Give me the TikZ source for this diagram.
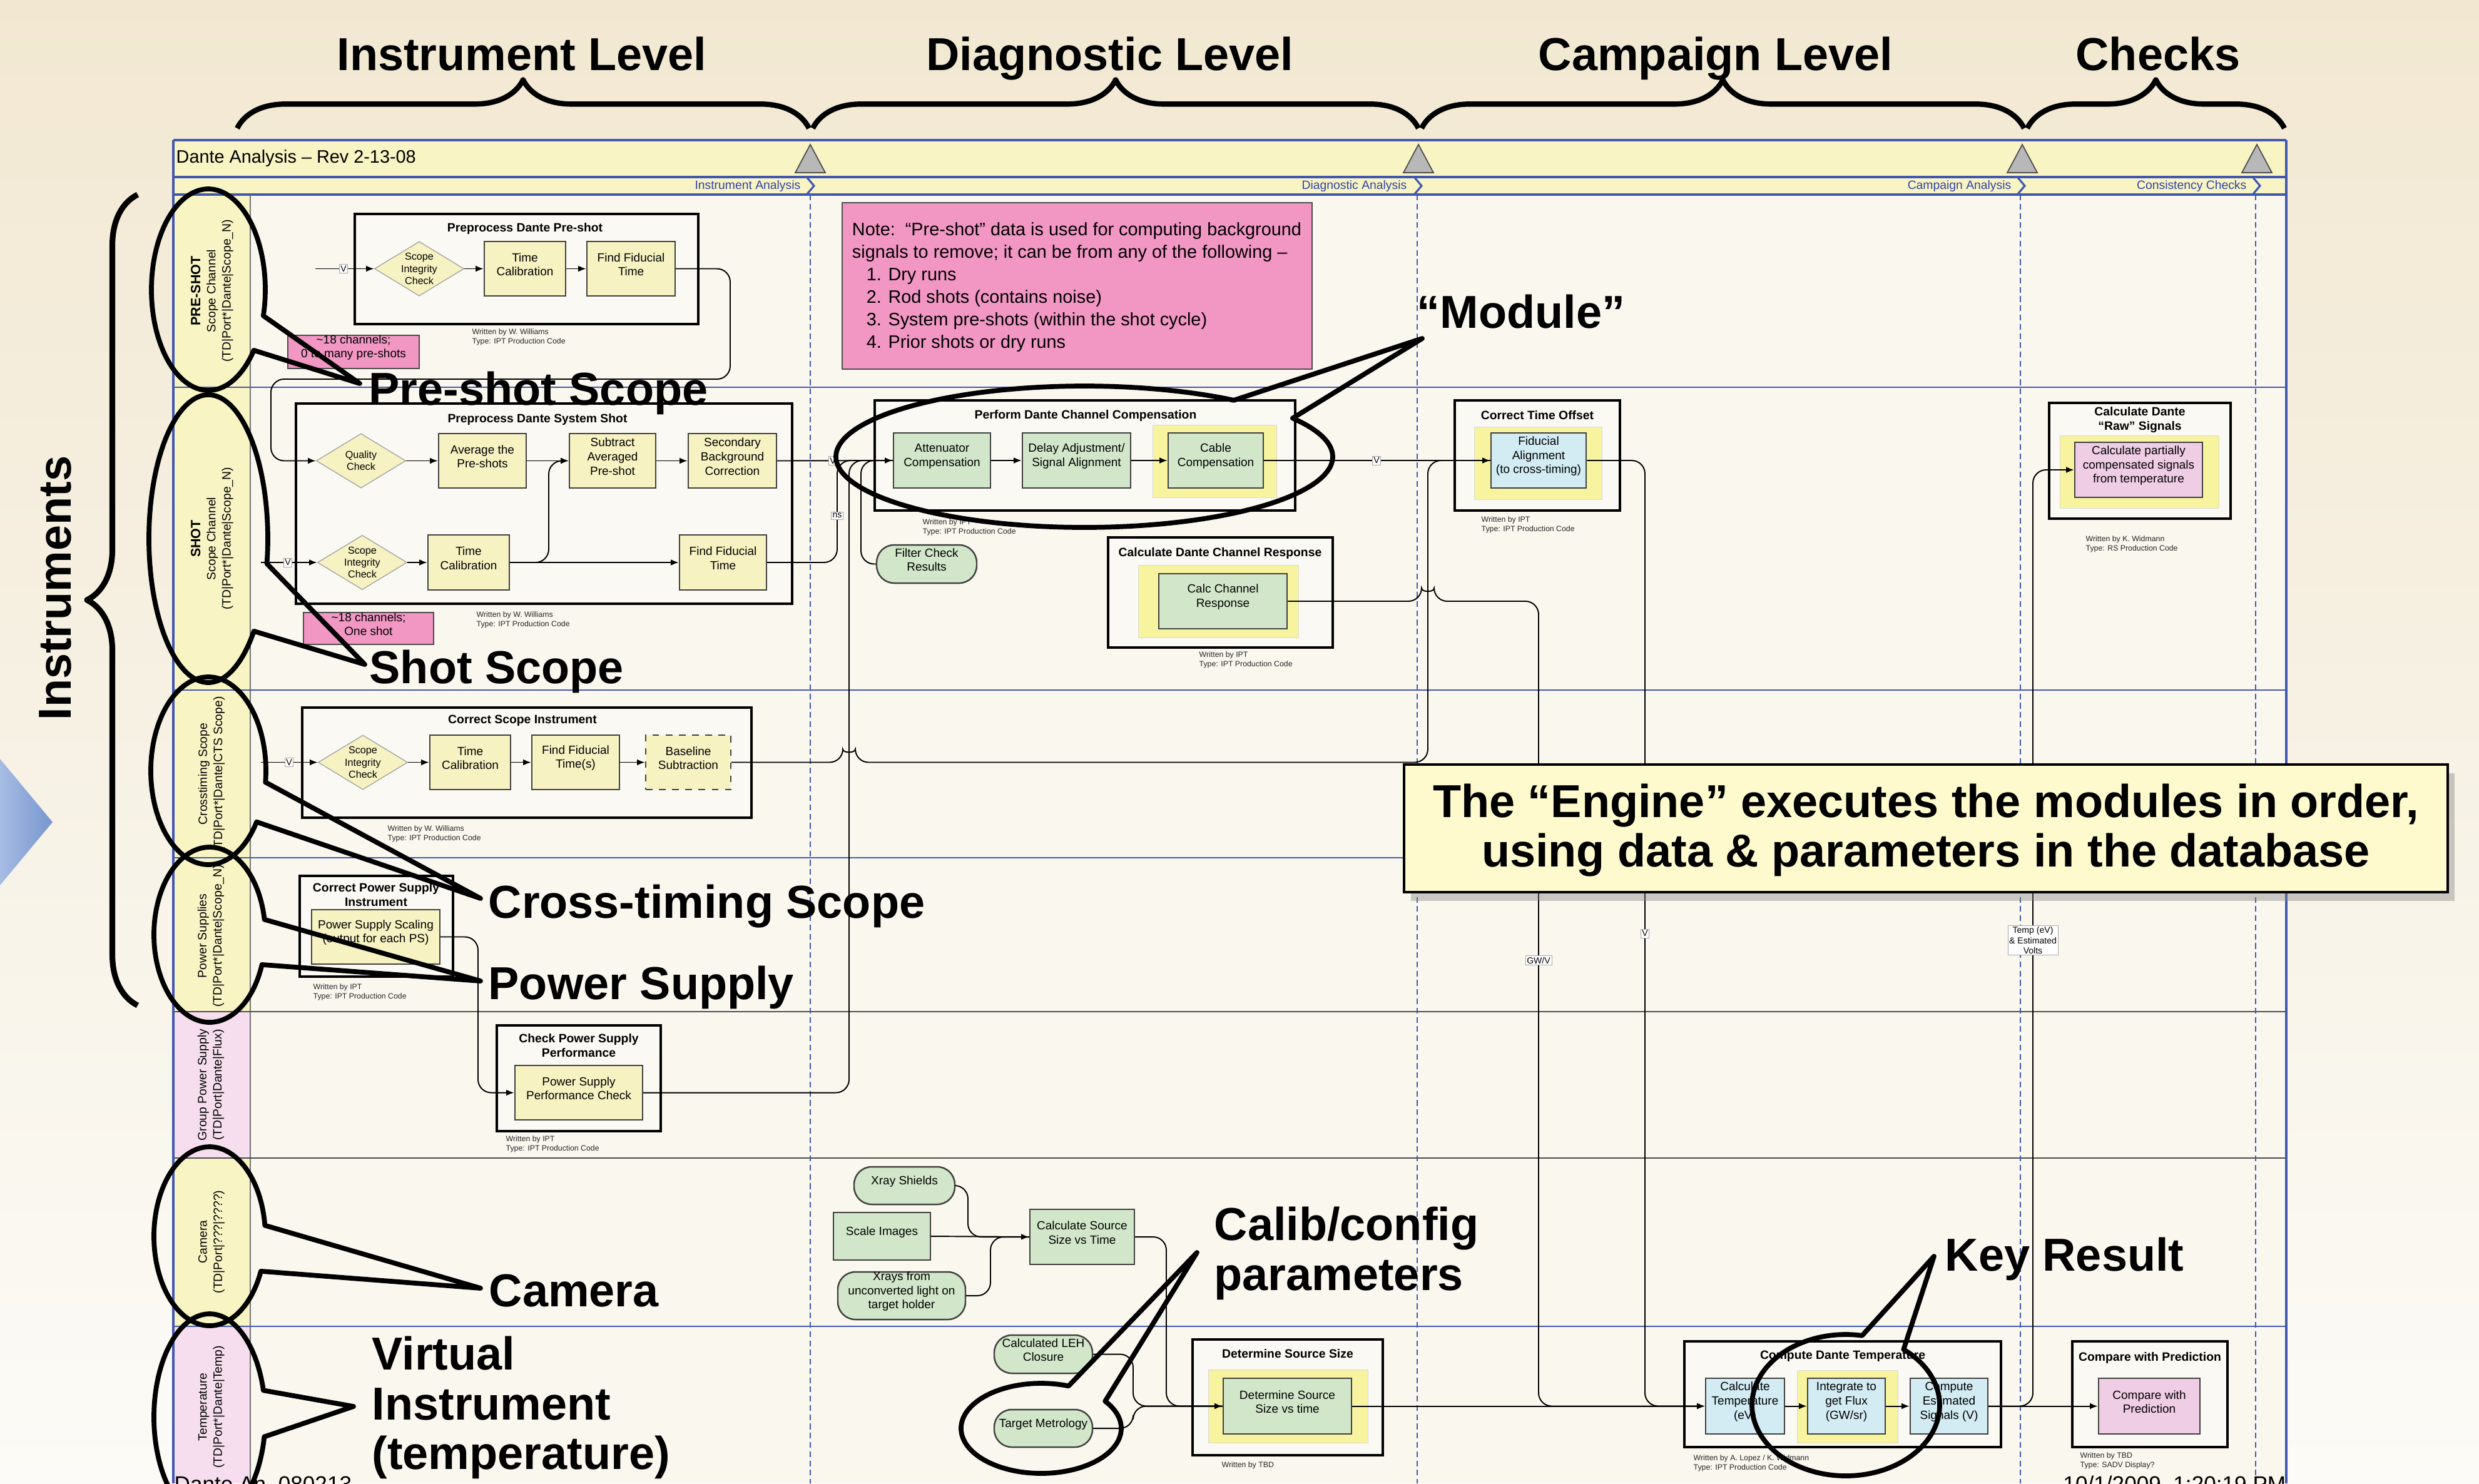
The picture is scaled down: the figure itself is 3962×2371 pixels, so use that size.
\documentclass[tikz,border=0pt]{standalone}
\usepackage{fontspec}
\setmainfont{Liberation Sans}
\usetikzlibrary{arrows.meta,decorations.pathreplacing,shadows,fit,shapes.geometric,calc}
\definecolor{bgtop}{HTML}{F2E8D2}
\definecolor{bgbot}{HTML}{FCFBF7}
\definecolor{framebg}{HTML}{FAF7EF}
\definecolor{bandyel}{HTML}{F8F4C4}
\definecolor{laneyel}{HTML}{F8F4C4}
\definecolor{lanepnk}{HTML}{F6DEEE}
\definecolor{blueln}{HTML}{4258B0}
\definecolor{boxyel}{HTML}{F7F2C2}
\definecolor{boxgrn}{HTML}{D2E7C9}
\definecolor{boxblu}{HTML}{D3ECF4}
\definecolor{boxpnk}{HTML}{EFCDE4}
\definecolor{haloyel}{HTML}{F8F39E}
\definecolor{notepink}{HTML}{F297C3}
\definecolor{engfill}{HTML}{FFFACD}
\definecolor{phaseblue}{HTML}{2F43A8}
\definecolor{modbg}{HTML}{FBF9F3}
\definecolor{triblueA}{HTML}{A6BCE3}
\definecolor{triblueB}{HTML}{7896CF}
\newcommand{\fsbox}{\fontsize{5.4}{6.5}\selectfont}
\newcommand{\fsdia}{\fontsize{4.6}{5.5}\selectfont}
\newcommand{\fsttl}{\fontsize{5.5}{6.6}\selectfont\bfseries}
\newcommand{\fswr}{\fontsize{3.5}{4.3}\selectfont}
\newcommand{\fsbig}{\fontsize{21}{22.7}\selectfont\bfseries}
\newcommand{\fsnote}{\fontsize{8.2}{10.2}\selectfont}
\newcommand{\fslane}{\fontsize{5.5}{6.9}\selectfont}
\newcommand{\fshdr}{\fontsize{8.2}{9.8}\selectfont}
\newcommand{\fsphase}{\fontsize{5.5}{6.6}\selectfont}
\newcommand{\fsv}{\fontsize{4}{4.6}\selectfont}
\newcommand{\fsfoot}{\fontsize{10}{12}\selectfont}
\tikzset{
 mod/.style={draw=black, line width=1.3pt, fill=modbg, inner sep=0pt,
   drop shadow={shadow xshift=0.6pt,shadow yshift=-0.6pt,opacity=0.35}},
 ibox/.style={draw=black!75, line width=0.7pt, inner sep=0pt, align=center, font=\fsbox},
 yb/.style={ibox, fill=boxyel},
 gb/.style={ibox, fill=boxgrn},
 bb/.style={ibox, fill=boxblu},
 pb/.style={ibox, fill=boxpnk},
 halo/.style={fill=haloyel, draw=black!15, line width=0.2pt, inner sep=0pt},
 stad/.style={gb, rounded corners=8pt},
 dia/.style={diamond, draw=black!35, line width=0.4pt, fill=boxyel, inner sep=0pt,
   minimum width=14.3mm, minimum height=8.7mm},
 dtxt/.style={font=\fsdia, align=center, inner sep=0pt},
 ttl/.style={font=\fsttl, align=center, inner sep=0pt},
 wr/.style={font=\fswr, align=left, anchor=north west, inner sep=0pt, text=black!85},
 conn/.style={draw=black, line width=0.55pt, rounded corners=6pt},
 arr/.style={conn, -{Latex[length=3.6pt,width=2.8pt]}},
 vlab/.style={fill=white, draw=black!35, line width=0.2pt, inner sep=0.6pt, font=\fsv, align=center},
 big/.style={font=\fsbig, inner sep=0pt},
 callout/.style={draw=black, line width=2.2pt, line join=round},
 pinknote/.style={draw=black!70, line width=0.6pt, fill=notepink, inner sep=0pt, align=center, font=\fsbox},
 hbrace/.style={decorate, decoration={brace, amplitude=22pt}, line width=2.4pt, line join=round},
 lanelab/.style={rotate=90, align=center, font=\fslane, inner sep=0pt},
 phaselab/.style={font=\fsphase, text=phaseblue, inner sep=0pt, anchor=east},
 laneb/.style={draw=blueln, line width=0.6pt},
 laned/.style={draw=black!70, line width=0.6pt},
 phasedash/.style={draw=blueln, line width=0.7pt, dash pattern=on 2.6pt off 1.6pt},
 engine/.style={draw=black, line width=1.4pt, fill=engfill, inner sep=0pt,
   drop shadow={shadow xshift=3pt,shadow yshift=-4pt,opacity=0.4}}
}
\begin{document}
\begin{tikzpicture}[x=0.01cm, y=-0.01cm]
\useasboundingbox (0,0) rectangle (3962,2371);
\clip (0,0) rectangle (3962,2371);
\shade[top color=bgtop, bottom color=bgbot] (0,0) rectangle (3962,2371);

% ---------- headings and braces ----------
\node[big, anchor=base] (hInst) at (834,112) {Instrument Level};
\node[big, anchor=base] (hDiag) at (1774,112) {Diagnostic Level};
\node[big, anchor=base] (hCamp) at (2742,112) {Campaign Level};
\node[big, anchor=base] (hChk) at (3449,112) {Checks};
\draw[hbrace] (379,205) -- (1293,205);
\draw[hbrace] (1299,205) -- (2267,205);
\draw[hbrace] (2272,205) -- (3235,205);
\draw[hbrace] (3240,205) -- (3651,205);
\draw[decorate, decoration={brace, amplitude=23pt}, line width=2.6pt, line join=round] (220,1607) -- (220,311);
\node[big, rotate=90] (instr) at (88,940) {Instruments};
\shade[left color=triblueA, right color=triblueB] (0,1213) -- (84,1314) -- (0,1415) -- cycle;

% ---------- frame ----------
\fill[framebg] (277,224) rectangle (3654,2371);
\fill[bandyel] (277,224) rectangle (3654,311);
\fill[laneyel] (277,311) rectangle (400,1617);
\fill[lanepnk] (277,1617) rectangle (400,1851);
\fill[laneyel] (277,1851) rectangle (400,2120);
\fill[lanepnk] (277,2120) rectangle (400,2371);
\draw[black!55, line width=0.5pt] (400,311) -- (400,2371);
\draw[laneb] (277,619) -- (3654,619);
\draw[laneb] (277,1103) -- (3654,1103);
\draw[laneb] (277,1371) -- (3654,1371);
\draw[laned] (277,1617) -- (3654,1617);
\draw[laned] (277,1851) -- (3654,1851);
\draw[laneb] (277,2120) -- (3654,2120);
\draw[blueln, line width=0.9pt] (277,224) -- (3654,224) (277,283) -- (3654,283) (277,311) -- (3654,311)
  (277,224) -- (277,2371) (3654,224) -- (3654,2371);
\foreach \x in {1295,2265,3229,3605} \draw[phasedash] (\x,311) -- (\x,2371);
\foreach \x in {1295,2267,3232,3607} \filldraw[fill=black!28, draw=black!70, line width=0.5pt] (\x-24,276) -- (\x,231) -- (\x+24,276) -- cycle;
\foreach \x in {1295,2266,3230,3606} \draw[blueln, line width=0.9pt] (\x-5,284) -- (\x+6,297) -- (\x-5,310);
\node[anchor=west, font=\fshdr, inner sep=0pt] (title) at (281,253) {Dante Analysis – Rev 2-13-08};
\node[phaselab] (pl1) at (1280,297) {Instrument Analysis};
\node[phaselab] (pl2) at (2249,297) {Diagnostic Analysis};
\node[phaselab] (pl3) at (3215,297) {Campaign Analysis};
\node[phaselab] (pl4) at (3591,297) {Consistency Checks};

% lane labels
\node[lanelab] (ll1) at (339,465) {{\fontsize{6.1}{7}\selectfont\bfseries PRE-SHOT}\\Scope Channel\\(TD|Port*|Dante|Scope\_N)};
\node[lanelab] (ll2) at (339,861) {{\fontsize{6.1}{7}\selectfont\bfseries SHOT}\\Scope Channel\\(TD|Port*|Dante|Scope\_N)};
\node[lanelab] (ll3) at (338,1237) {Crosstiming Scope\\(TD|Port*|Dante|CTS Scope)};
\node[lanelab] (ll4) at (337,1496) {Power Supplies\\(TD|Port*|Dante|Scope\_N)};
\node[lanelab] (ll5) at (337,1734) {Group Power Supply\\(TD|Port|Dante|Flux)};
\node[lanelab] (ll6) at (338,1985) {Camera\\(TD|Port|???|????)};
\node[lanelab] (ll7) at (338,2249) {Temperature\\(TD|Port*|Dante|Temp)};

% ---------- lane 1 : pre-shot ----------
\node[mod, fit={(567,342)(1116,518)}] (m1) {};
\node[ttl] (m1t) at (839,365) {Preprocess Dante Pre-shot};
\node[dia] (d1) at (670,429.5) {};
\node[dtxt] (d1t) at (d1) {Scope\\Integrity\\Check};
\node[yb, fit={(774,386)(904,473)}] (b1) {Time\\Calibration};
\node[yb, fit={(938,386)(1079,473)}] (b2) {Find Fiducial\\Time};
\node[wr] (w1) at (754,525) {Written by W. Williams\\Type: IPT Production Code};
\node[pinknote, fit={(460,536)(670,589)}] (n1) {\textasciitilde18 channels;\\0 to many pre-shots};
\node[draw=black!70, line width=0.6pt, fill=notepink, inner sep=0pt, fit={(1346,324)(2097,590)}] (n2) {};
\node[font=\fsnote, align=left, inner sep=0pt] (n2t) at (1721,459) {Note:\ \ “Pre-shot” data is used for computing background\\signals to remove; it can be from any of the following –\\\hspace*{6.5pt}1. Dry runs\\\hspace*{6.5pt}2. Rod shots (contains noise)\\\hspace*{6.5pt}3. System pre-shots (within the shot cycle)\\\hspace*{6.5pt}4. Prior shots or dry runs};

% ---------- lane 2 : shot ----------
\node[mod, fit={(473,645)(1266,965)}] (m2) {};
\node[ttl] (m2t) at (859,670) {Preprocess Dante System Shot};
\node[dia] (d2) at (577,736.5) {};
\node[dtxt] (d2t) at (d2) {Quality\\Check};
\node[yb, fit={(701,693)(841,780)}] (b3) {Average the\\Pre-shots};
\node[yb, fit={(910,693)(1048,780)}] (b4) {Subtract\\Averaged\\Pre-shot};
\node[yb, fit={(1100,693)(1241,780)}] (b5) {Secondary\\Background\\Correction};
\node[dia] (d3) at (579,899) {};
\node[dtxt] (d3t) at (d3) {Scope\\Integrity\\Check};
\node[yb, fit={(684,855)(814,943)}] (b6) {Time\\Calibration};
\node[yb, fit={(1086,855)(1225,943)}] (b7) {Find Fiducial\\Time};
\node[wr] (w2) at (761,977) {Written by W. Williams\\Type: IPT Production Code};
\node[pinknote, fit={(485,979)(693,1030)}] (n3) {\textasciitilde18 channels;\\One shot};

\node[mod, fit={(1398,640)(2070,816)}] (m3) {};
\node[ttl] (m3t) at (1735,664) {Perform Dante Channel Compensation};
\node[gb, fit={(1428,692)(1583,780)}] (a1) {Attenuator\\Compensation};
\node[gb, fit={(1634,692)(1807,780)}] (a2) {Delay Adjustment/\\Signal Alignment};
\node[halo, fit={(1842,679)(2040,795)}] (h3) {};
\node[gb, fit={(1867,692)(2019,780)}] (a3) {Cable\\Compensation};
\node[wr] (w6) at (1474,829) {Written by IPT\\Type: IPT Production Code};
\node[stad, fit={(1401,871)(1561,932)}] (fc) {Filter Check\\Results};

\node[mod, fit={(1771,859)(2130,1035)}] (m4) {};
\node[ttl] (m4t) at (1950,884) {Calculate Dante Channel Response};
\node[halo, fit={(1819,903)(2075,1019)}] (h4) {};
\node[gb, fit={(1852,917)(2057,1005)}] (cr) {Calc Channel\\Response};
\node[wr] (w7) at (1916,1041) {Written by IPT\\Type: IPT Production Code};

\node[mod, fit={(2325,640)(2589,816)}] (m5) {};
\node[ttl] (m5t) at (2457,664) {Correct Time Offset};
\node[halo, fit={(2356,682)(2560,798)}] (h5) {};
\node[bb, fit={(2383,692)(2535,780)}] (fa) {Fiducial\\Alignment\\(to cross-timing)};
\node[wr] (w8) at (2367,825) {Written by IPT\\Type: IPT Production Code};

\node[mod, fit={(3275,644)(3565,829)}] (m6) {};
\node[ttl] (m6t) at (3420,671) {Calculate Dante\\“Raw” Signals};
\node[halo, fit={(3292,696)(3546,812)}] (h6) {};
\node[pb, fit={(3316,707)(3520,795)}] (rs) {Calculate partially\\compensated signals\\from temperature};
\node[wr] (w9) at (3333,856) {Written by K. Widmann\\Type: RS Production Code};

% ---------- lane 3 : crosstiming ----------
\node[mod, fit={(483,1131)(1201,1307)}] (m7) {};
\node[ttl] (m7t) at (835,1152) {Correct Scope Instrument};
\node[dia] (d4) at (580,1218.5) {};
\node[dtxt] (d4t) at (d4) {Scope\\Integrity\\Check};
\node[yb, fit={(687,1175)(816,1262)}] (b8) {Time\\Calibration};
\node[yb, fit={(850,1175)(990,1262)}] (b9) {Find Fiducial\\Time(s)};
\node[yb, dashed, fit={(1032,1175)(1168,1262)}] (b10) {Baseline\\Subtraction};
\node[wr] (w3) at (619,1319) {Written by W. Williams\\Type: IPT Production Code};

% ---------- lane 4/5 : power ----------
\node[mod, fit={(479,1400)(724,1561)}] (m8) {};
\node[ttl] (m8t) at (601,1430) {Correct Power Supply\\Instrument};
\node[yb, fit={(498,1454)(703,1541)}] (ps) {Power Supply Scaling\\(output for each PS)};
\node[wr] (w4) at (500,1572) {Written by IPT\\Type: IPT Production Code};
\node[mod, fit={(794,1639)(1056,1808)}] (m9) {};
\node[ttl] (m9t) at (925,1671) {Check Power Supply\\Performance};
\node[yb, fit={(823,1703)(1027,1790)}] (pp) {Power Supply\\Performance Check};
\node[wr] (w5) at (808,1815) {Written by IPT\\Type: IPT Production Code};

% ---------- lane 6 : camera ----------
\node[stad, fit={(1365,1865)(1526,1925)}] (xs) {Xray Shields};
\node[gb, fit={(1332,1938)(1487,2014)}] (si) {Scale Images};
\node[stad, fit={(1339,2033)(1543,2109)}] (xr) {Xrays from\\unconverted light on\\target holder};
\node[gb, fit={(1646,1933)(1813,2021)}] (cs) {Calculate Source\\Size vs Time};

% ---------- lane 7 : temperature ----------
\node[stad, fit={(1589,2134)(1746,2195)}] (leh) {Calculated LEH\\Closure};
\node[stad, fit={(1589,2253)(1746,2313)}] (tm) {Target Metrology};
\node[mod, fit={(1906,2141)(2210,2326)}] (m10) {};
\node[ttl] (m10t) at (2058,2164) {Determine Source Size};
\node[halo, fit={(1931,2189)(2186,2306)}] (h10) {};
\node[gb, fit={(1955,2203)(2160,2292)}] (ds) {Determine Source\\Size vs time};
\node[wr] (w10) at (1952,2336) {Written by TBD};
\node[mod, fit={(2692,2144)(3198,2313)}] (m11) {};
\node[ttl] (m11t) at (2945,2168) {Compute Dante Temperature};
\node[bb, fit={(2726,2203)(2852,2292)}] (ct) {Calculate\\Temperature\\(eV)};
\node[halo, fit={(2872,2190)(3033,2306)}] (h11) {};
\node[bb, fit={(2889,2203)(3013,2292)}] (fl) {Integrate to\\get Flux\\(GW/sr)};
\node[bb, fit={(3053,2203)(3177,2292)}] (es) {Compute\\Estimated\\Signals (V)};
\node[wr] (w11) at (2706,2325) {Written by A. Lopez / K. Widmann\\Type: IPT Production Code};
\node[mod, fit={(3312,2144)(3560,2313)}] (m12) {};
\node[ttl] (m12t) at (3436,2170) {Compare with Prediction};
\node[pb, fit={(3354,2203)(3516,2292)}] (cp) {Compare with\\Prediction};
\node[wr] (w12) at (3324,2321) {Written by TBD\\Type: SADV Display?};

% ---------- connectors ----------
\coordinate (in1) at (504,429.5);
\coordinate (in2) at (417,899);
\coordinate (in3) at (417,1218.5);
\draw[arr] (in1) -- (d1.west);
\draw[arr] (d1.east) -- (b1.west);
\draw[arr] (b1.east) -- (b2.west);
\draw[arr] (b2.east) -- (1167,429.5) -- (1167,606) -- (433,606) |- (d2.west);
\draw[arr] (d2.east) -- (b3.west);
\draw[arr] (b3.east) -- (b4.west);
\draw[arr] (b4.east) -- (b5.west);
\draw[arr] (in2) -- (d3.west);
\draw[arr] (d3.east) -- (b6.west);
\draw[arr] (b6.east) -- (b7.west);
\draw[arr] (b6.east) -- (877,899) |- (b4.west);
\draw[arr] (in3) -- (d4.west);
\draw[arr] (d4.east) -- (b8.west);
\draw[arr] (b8.east) -- (b9.west);
\draw[arr] (b9.east) -- (b10.west);
\draw[arr] (b5.east) -- (a1.west);
\draw[conn] (b7.east) -- (1338,899) |- (a1.west);
\draw[conn] (pp.east) -- (1357,1746.5) |- (a1.west);
\draw[conn] (fc.west) -- (1376,901.5) |- (a1.west);
\draw[arr] (a1.east) -- (a2.west);
\draw[arr] (a2.east) -- (a3.west);
\draw[arr] (a3.east) -- (fa.west);
\draw[conn] (b10.east) -- (1347,1218.5) .. controls (1347,1204) and (1367,1204) .. (1367,1218.5) -- (2282,1218.5) |- (fa.west);
\draw[arr] (cr.east) -- (2272,961) .. controls (2272,947) and (2292,947) .. (2292,961) -- (2459,961) |- (ct.west);
\draw[arr] (fa.east) -- (2629,736) |- (ct.west);
\draw[arr] (ps.east) -- (764,1497.5) |- (pp.west);
\draw[conn] (xs.east) -- (1547,1895) |- (cs.west);
\draw[arr] (si.east) -- (cs.west);
\draw[conn] (xr.east) -- (1583,2071) |- (cs.west);
\draw[arr] (cs.east) -- (1864,1977) |- (ds.west);
\draw[conn] (leh.east) -- (1811,2164.5) |- (ds.west);
\draw[conn] (tm.east) -- (1811,2283) |- (ds.west);
\draw[arr] (ds.east) -- (ct.west);
\draw[arr] (ct.east) -- (fl.west);
\draw[arr] (fl.east) -- (es.west);
\draw[arr] (es.east) -- (cp.west);
\draw[arr] (es.east) -- (3249,2247.5) |- (rs.west);

% connector labels
\node[vlab] (v1) at (549,429.5) {V};
\node[vlab] (v2) at (460,899) {V};
\node[vlab] (v3) at (462,1218.5) {V};
\node[vlab] (v4) at (1331,736.5) {V};
\node[vlab] (v5) at (2200,736) {V};
\node[vlab] (v6) at (2629,1492) {V};
\node[vlab] (ns) at (1338,824) {ns};
\node[vlab] (gwv) at (2459,1535) {GW/V};
\node[vlab] (tev) at (3249,1503) {Temp (eV)\\\& Estimated\\Volts};

% ---------- engine box ----------
\node[engine, fit={(2244,1222)(3912,1426)}] (eng) {};
\node[big, align=center] (engt) at (3078,1327) {The “Engine” executes the modules in order,\\using data \& parameters in the database};

% ---------- footer ----------
\node[anchor=base west, font=\fsfoot, inner sep=0pt] (ft1) at (278,2384) {Dante An\_080213};
\node[anchor=base east, font=\fsfoot, inner sep=0pt] (ft2) at (3654,2384) {10/1/2009\ \ 1:20:19 PM};

% ---------- callouts ----------
\draw[callout] plot[domain=37:375, samples=90, smooth] ({333+91*cos(\x)},{463+161*sin(\x)}) -- (575,613) -- cycle;
\draw[callout] plot[domain=40:370, samples=90, smooth] ({333+95*cos(\x)},{861+230*sin(\x)}) -- (583,1062) -- cycle;
\draw[callout] plot[domain=33:367, samples=90, smooth] ({333+92*cos(\x)},{1232+150*sin(\x)}) -- (768,1436) -- cycle;
\draw[callout] plot[domain=20:350, samples=90, smooth] ({335+89*cos(\x)},{1494+140*sin(\x)}) -- (768,1568) -- cycle;
\draw[callout] plot[domain=23:353, samples=90, smooth] ({335+89*cos(\x)},{1976+143*sin(\x)}) -- (768,2059) -- cycle;
\draw[callout] plot[domain=11:345, samples=90, smooth] ({335+89*cos(\x)},{2265+165*sin(\x)}) -- (565,2248) -- cycle;
\draw[callout] plot[domain=-33:307, samples=120, smooth] ({1733+397*cos(\x)},{730+113*sin(\x)}) -- (2273,541) -- cycle;
\draw[callout] plot[domain=-37:290, samples=90, smooth] ({1664+128*cos(\x)},{2283+72*sin(\x)}) -- (1913,2002) -- cycle;
\draw[callout] plot[domain=-52:280, samples=90, smooth] ({2950+150*cos(\x)},{2246+113*sin(\x)}) -- (3091,2008) -- cycle;

% ---------- big labels ----------
\node[big, anchor=base west] (lPre) at (589,647) {Pre-shot Scope};
\node[big, anchor=base west] (lShot) at (590,1092) {Shot Scope};
\node[big, anchor=base west] (lCross) at (780,1467) {Cross-timing Scope};
\node[big, anchor=base west] (lPow) at (780,1597) {Power Supply};
\node[big, anchor=base west] (lCam) at (781,2088) {Camera};
\node[big, anchor=north west, align=left] (lVirt) at (594,2135) {Virtual\\Instrument\\(temperature)};
\node[big, anchor=north west, align=left] (lCalib) at (1940,1928) {Calib/config\\parameters};
\node[big, anchor=base west] (lKey) at (3108,2031) {Key Result};
\node[big, anchor=base west] (lMod) at (2264,524) {“Module”};
\end{tikzpicture}
\end{document}
